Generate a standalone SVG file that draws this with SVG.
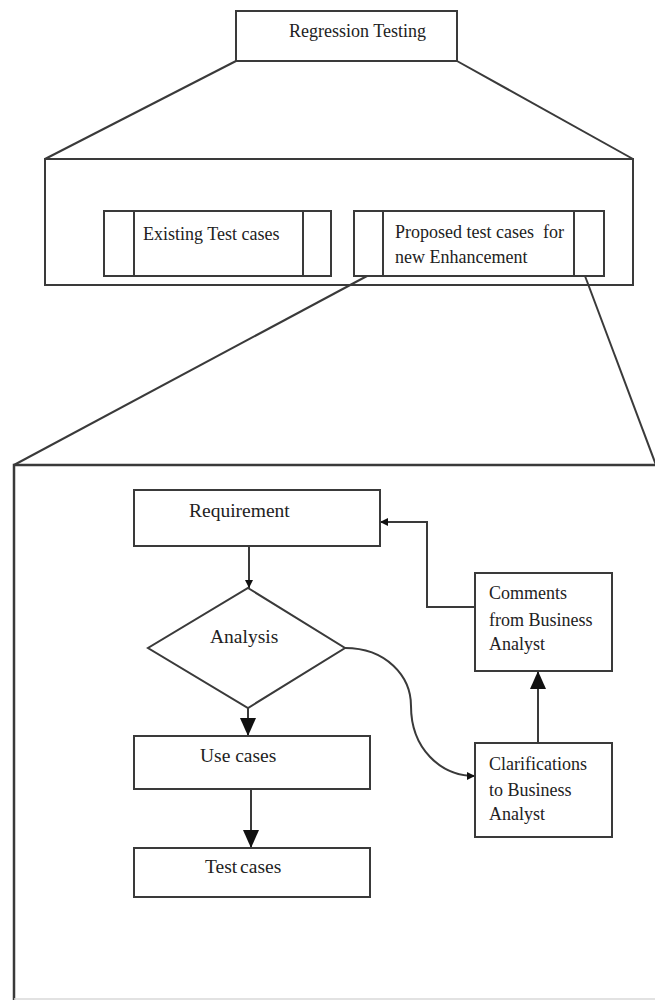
<svg xmlns="http://www.w3.org/2000/svg" width="655" height="1000" viewBox="0 0 655 1000">
<style>
.s{fill:none;stroke:#3a3a3a;stroke-width:2}
.b{fill:#fff;stroke:#3a3a3a;stroke-width:2}
.t{font-family:"Liberation Serif","Times New Roman",serif;fill:#222;white-space:pre}
.f18{font-size:18px}
.f20{font-size:19.5px}
</style>
<defs>
<marker id="big" markerUnits="userSpaceOnUse" markerWidth="18" markerHeight="16" refX="18" refY="8" orient="auto">
<path d="M0,0 L18,8 L0,16 z" fill="#111"/>
</marker>
<marker id="small" markerUnits="userSpaceOnUse" markerWidth="8" markerHeight="8" refX="8" refY="4" orient="auto">
<path d="M0,0 L8,4 L0,8 z" fill="#111"/>
</marker>
</defs>
<rect width="655" height="1000" fill="#fff"/>

<g id="zoom-lines">
<line class="s" x1="236" y1="61" x2="45" y2="159"/>
<line class="s" x1="457" y1="61" x2="633" y2="159"/>
<line class="s" x1="367" y1="276" x2="14" y2="465"/>
<line class="s" x1="585" y1="276" x2="656" y2="465"/>
</g>

<g id="regression-testing">
<rect class="b" x="236" y="11" width="221" height="50"/>
<text class="t f18" x="289" y="37">Regression Testing</text>
</g>

<g id="test-suite">
<rect class="s" x="45" y="159" width="588" height="126"/>
</g>

<g id="existing">
<rect class="b" x="104" y="211" width="227" height="65"/>
<line class="s" x1="134" y1="211" x2="134" y2="276"/>
<line class="s" x1="303" y1="211" x2="303" y2="276"/>
<text class="t f18" x="143" y="240">Existing Test cases</text>
</g>

<g id="proposed">
<rect class="b" x="354" y="211" width="250" height="65"/>
<line class="s" x1="383" y1="211" x2="383" y2="276"/>
<line class="s" x1="574" y1="211" x2="574" y2="276"/>
<text class="t f18" x="395" y="238">Proposed test cases  for</text>
<text class="t f18" x="395" y="263">new Enhancement</text>
</g>

<g id="detail-frame">
<path d="M14,1000 L14,465 L660,465" fill="none" stroke="#3a3a3a" stroke-width="2.5"/>
<line x1="14" y1="999" x2="655" y2="999" stroke="#d8d8d8" stroke-width="1.5"/>
</g>

<g id="connectors">
<line class="s" x1="249" y1="546" x2="249" y2="588" marker-end="url(#small)"/>
<line class="s" x1="248" y1="708" x2="248" y2="736" marker-end="url(#big)"/>
<line class="s" x1="251" y1="789" x2="251" y2="848" marker-end="url(#big)"/>
<line class="s" x1="538" y1="743" x2="538" y2="671" marker-end="url(#big)"/>
<path class="s" d="M475,607 L427,607 L427,522 L380,522" marker-end="url(#small)"/>
<path class="s" d="M345,648 C386,648 411,676 411,706 C411,748 440,776 475,776" marker-end="url(#small)"/>
</g>

<g id="requirement">
<rect class="b" x="134" y="490" width="246" height="56"/>
<text class="t f20" x="189" y="517">Requirement</text>
</g>

<g id="analysis">
<polygon class="b" points="248,588 345,648 248,708 148,648"/>
<text class="t f20" x="210" y="643">Analysis</text>
</g>

<g id="use-cases">
<rect class="b" x="134" y="736" width="236" height="53"/>
<text class="t f20" x="200" y="762">Use cases</text>
</g>

<g id="test-cases">
<rect class="b" x="134" y="848" width="236" height="49"/>
<text class="t f20" x="205" y="873" word-spacing="-2">Test cases</text>
</g>

<g id="comments">
<rect class="b" x="475" y="573" width="137" height="98"/>
<text class="t f18" x="489" y="599">Comments</text>
<text class="t f18" x="489" y="626">from Business</text>
<text class="t f18" x="489" y="650">Analyst</text>
</g>

<g id="clarifications">
<rect class="b" x="475" y="743" width="137" height="94"/>
<text class="t f18" x="489" y="770">Clarifications</text>
<text class="t f18" x="489" y="796">to Business</text>
<text class="t f18" x="489" y="820">Analyst</text>
</g>
</svg>
